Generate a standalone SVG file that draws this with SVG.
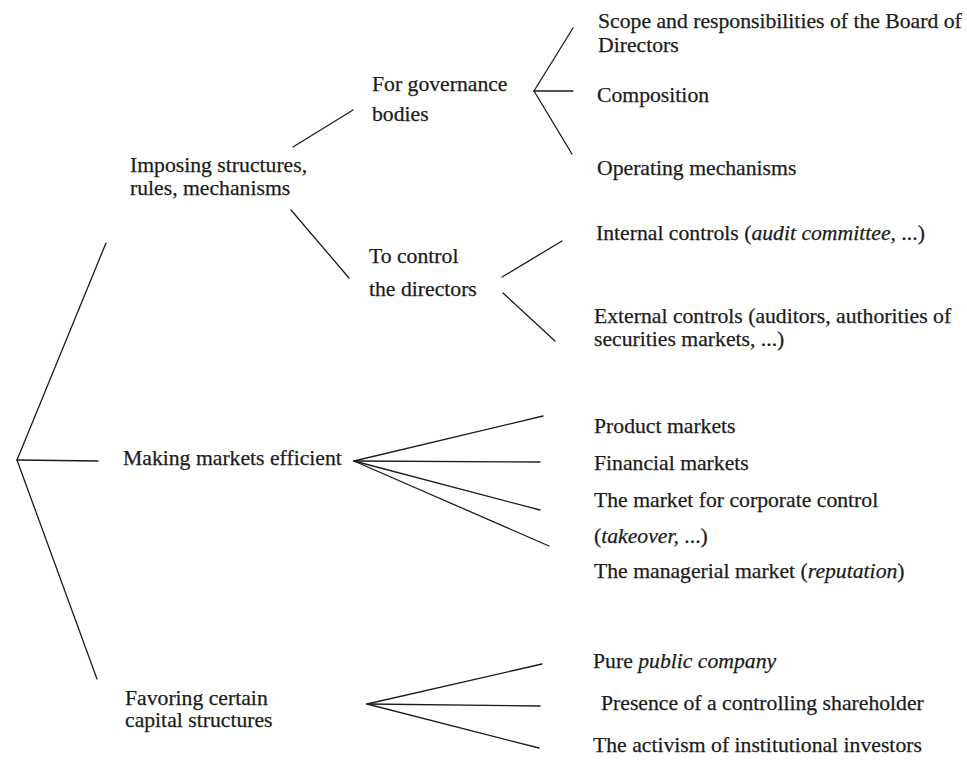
<svg xmlns="http://www.w3.org/2000/svg" width="967" height="761" viewBox="0 0 967 761">
  <style>
    .lbl { font-family: "Liberation Serif", "Times New Roman", serif; font-size: 21.7px; fill: #1c1c1c; stroke: #1c1c1c; stroke-width: 0.25; }
    .it { font-style: italic; }
    .con line { stroke: #1c1c1c; stroke-width: 1.3; fill: none; stroke-linecap: round; }
  </style>
  <rect width="967" height="761" fill="#ffffff"/>

  <g id="connectors" class="con">
    <!-- root fork -->
    <line x1="17" y1="460" x2="106" y2="243"/>
    <line x1="17" y1="460" x2="98" y2="461"/>
    <line x1="17" y1="460" x2="97" y2="679"/>
    <!-- structures / rules branches -->
    <line x1="293" y1="147" x2="353" y2="110"/>
    <line x1="291" y1="210" x2="349" y2="278"/>
    <!-- governance bodies fork -->
    <line x1="534" y1="91" x2="573" y2="28"/>
    <line x1="534" y1="91" x2="573" y2="91"/>
    <line x1="534" y1="91" x2="572" y2="154"/>
    <!-- control of the directors -->
    <line x1="502" y1="277" x2="562" y2="241"/>
    <line x1="503" y1="293" x2="555" y2="341"/>
    <!-- efficient markets fan -->
    <line x1="354" y1="461" x2="543" y2="416"/>
    <line x1="354" y1="461" x2="540" y2="462"/>
    <line x1="354" y1="461" x2="540" y2="510"/>
    <line x1="354" y1="461" x2="549" y2="546"/>
    <!-- capital structures fan -->
    <line x1="367" y1="704" x2="542" y2="664"/>
    <line x1="367" y1="704" x2="540" y2="706"/>
    <line x1="367" y1="704" x2="539" y2="748"/>
  </g>

  <g id="imposing">
    <text class="lbl" x="130" y="172">Imposing structures,</text>
    <text class="lbl" x="130" y="195">rules, mechanisms</text>
  </g>
  <g id="governance-bodies">
    <text class="lbl" x="372" y="91">For governance</text>
    <text class="lbl" x="372" y="121">bodies</text>
  </g>
  <g id="scope">
    <text class="lbl" x="598" y="28">Scope and responsibilities of the Board of</text>
    <text class="lbl" x="598" y="52">Directors</text>
  </g>
  <g id="composition">
    <text class="lbl" x="597" y="102">Composition</text>
  </g>
  <g id="operating">
    <text class="lbl" x="597" y="175">Operating mechanisms</text>
  </g>
  <g id="control-directors">
    <text class="lbl" x="369" y="263">To control</text>
    <text class="lbl" x="369" y="296">the directors</text>
  </g>
  <g id="internal">
    <text class="lbl" x="596" y="240">Internal controls (<tspan class="it">audit committee,</tspan> ...)</text>
  </g>
  <g id="external">
    <text class="lbl" x="594" y="323">External controls (auditors, authorities of</text>
    <text class="lbl" x="594" y="346">securities markets, ...)</text>
  </g>
  <g id="markets">
    <text class="lbl" x="123" y="465">Making markets efficient</text>
  </g>
  <g id="product">
    <text class="lbl" x="594" y="433">Product markets</text>
  </g>
  <g id="financial">
    <text class="lbl" x="594" y="470">Financial markets</text>
  </g>
  <g id="corporate-control">
    <text class="lbl" x="594" y="507">The market for corporate control</text>
    <text class="lbl" x="594" y="543">(<tspan class="it">takeover,</tspan> ...)</text>
  </g>
  <g id="managerial">
    <text class="lbl" x="594" y="578">The managerial market (<tspan class="it">reputation</tspan>)</text>
  </g>
  <g id="capital">
    <text class="lbl" x="125" y="705">Favoring certain</text>
    <text class="lbl" x="125" y="727">capital structures</text>
  </g>
  <g id="public-company">
    <text class="lbl" x="593" y="668">Pure <tspan class="it">public company</tspan></text>
  </g>
  <g id="controlling">
    <text class="lbl" x="601" y="710">Presence of a controlling shareholder</text>
  </g>
  <g id="activism">
    <text class="lbl" x="593" y="752">The activism of institutional investors</text>
  </g>
</svg>
